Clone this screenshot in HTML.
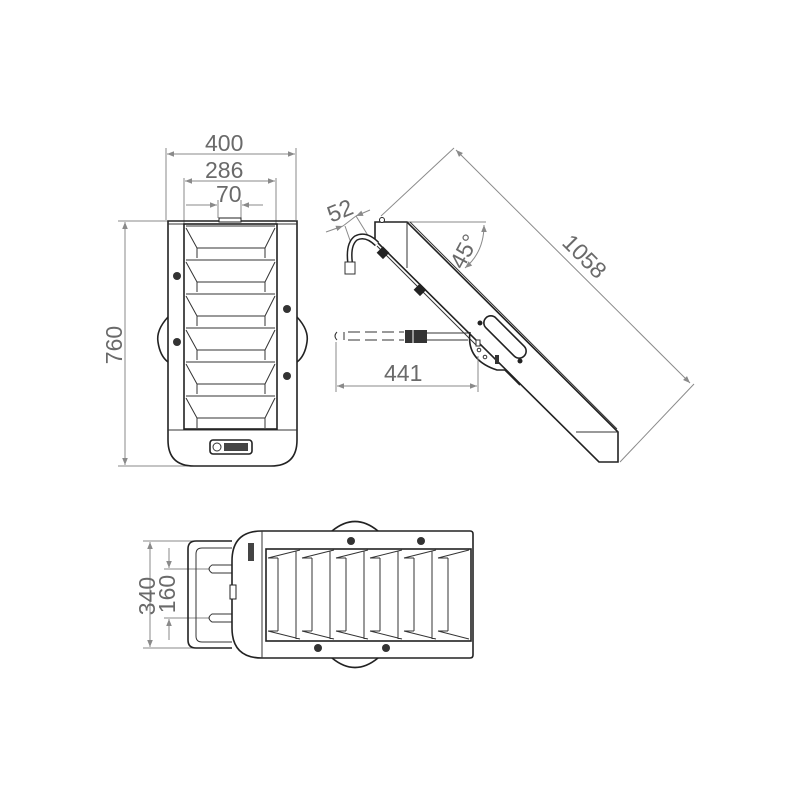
<!DOCTYPE html>
<html><head><meta charset="utf-8"><style>
html,body{margin:0;padding:0;background:#fff;}
svg{display:block}
text{font-family:"Liberation Sans",sans-serif;fill:#6a6a6a;font-size:23px}
.d{stroke:#8a8a8a;stroke-width:1;fill:none}
.o{stroke:#222;stroke-width:1.6;fill:none}
.t{stroke:#333;stroke-width:1;fill:none}
</style></head><body>
<svg width="800" height="800" viewBox="0 0 800 800" xmlns="http://www.w3.org/2000/svg">
<defs>
<marker id="a" viewBox="0 0 10 10" refX="10" refY="5" markerWidth="9" markerHeight="7" orient="auto-start-reverse" markerUnits="userSpaceOnUse"><path d="M0,1 L10,5 L0,9 z" fill="#8a8a8a"/></marker>
</defs>

<!-- FRONT VIEW dims -->
<line class="d" x1="166" y1="148" x2="166" y2="220"/><line class="d" x1="296" y1="148" x2="296" y2="220"/>
<line class="d" x1="167" y1="154" x2="295" y2="154" marker-start="url(#a)" marker-end="url(#a)"/>
<text x="205" y="151">400</text>
<line class="d" x1="184" y1="178" x2="184" y2="224"/><line class="d" x1="276" y1="178" x2="276" y2="224"/>
<line class="d" x1="185" y1="181" x2="275" y2="181" marker-start="url(#a)" marker-end="url(#a)"/>
<text x="205" y="178">286</text>
<line class="d" x1="218" y1="200" x2="218" y2="218"/><line class="d" x1="241" y1="200" x2="241" y2="218"/>
<line class="d" x1="186" y1="205" x2="217" y2="205" marker-end="url(#a)"/>
<line class="d" x1="263" y1="205" x2="242" y2="205" marker-end="url(#a)"/>
<text x="216" y="202">70</text>
<line class="d" x1="118" y1="221" x2="168" y2="221"/><line class="d" x1="118" y1="466" x2="230" y2="466"/>
<line class="d" x1="125" y1="222" x2="125" y2="465" marker-start="url(#a)" marker-end="url(#a)"/>
<text transform="translate(122,345) rotate(-90)" text-anchor="middle">760</text>

<!-- FRONT VIEW body -->
<path class="o" d="M168,221 H297 V440 Q297,466 271,466 H194 Q168,466 168,440 Z"/>
<line class="t" x1="168" y1="224" x2="297" y2="224"/>
<line class="t" x1="168" y1="430" x2="297" y2="430"/>
<rect x="219" y="218" width="22" height="4" fill="#fff" stroke="#222"/>
<rect class="o" x="184" y="224" width="93" height="205"/>
<g class="t">
<path d="M186,226 H275 M186,228 L197,248 V258 M275,228 L265,248 V258 M197,248 H265"/>
<path d="M186,260 H275 M186,262 L197,282 V292 M275,262 L265,282 V292 M197,282 H265"/>
<path d="M186,294 H275 M186,296 L197,316 V326 M275,296 L265,316 V326 M197,316 H265"/>
<path d="M186,328 H275 M186,330 L197,350 V360 M275,330 L265,350 V360 M197,350 H265"/>
<path d="M186,362 H275 M186,364 L197,384 V394 M275,364 L265,384 V394 M197,384 H265"/>
<path d="M186,396 H275 M186,398 L197,418 V428 M275,398 L265,418 V428 M197,418 H265"/>
</g>
<g fill="#333"><circle cx="177" cy="276" r="4"/><circle cx="177" cy="342" r="4"/><circle cx="287" cy="309" r="4"/><circle cx="287" cy="376" r="4"/></g>
<path class="o" d="M168,317 Q156,330 158,342 Q160,356 168,362"/>
<path class="o" d="M297,317 Q309,330 307,342 Q305,356 297,362"/>
<rect class="o" x="210" y="440" width="42" height="14" rx="3"/>
<circle class="t" cx="217" cy="447" r="4"/>
<rect x="224" y="443" width="24" height="8" fill="#444"/>

<!-- SIDE VIEW -->
<line class="d" x1="381" y1="216" x2="454" y2="148"/>
<line class="d" x1="620" y1="462" x2="694" y2="384"/>
<line class="d" x1="456" y1="150" x2="690" y2="383" marker-start="url(#a)" marker-end="url(#a)"/>
<text transform="translate(579,262) rotate(45)" text-anchor="middle">1058</text>
<line class="d" x1="407" y1="222" x2="486" y2="222"/>
<path class="d" d="M484,225 Q484,252 465,268" marker-start="url(#a)" marker-end="url(#a)"/>
<text transform="translate(471,255) rotate(-62)" text-anchor="middle">45°</text>
<!-- 52 -->
<line class="d" x1="326" y1="232" x2="343" y2="226" marker-end="url(#a)"/>
<line class="d" x1="370" y1="210" x2="356" y2="216" marker-end="url(#a)"/>
<line class="d" x1="343" y1="226" x2="356" y2="216"/>
<line class="d" x1="345" y1="226" x2="352" y2="246"/><line class="d" x1="356" y1="216" x2="372" y2="242"/>
<text transform="translate(343,218) rotate(-22)" text-anchor="middle">52</text>
<!-- body -->
<path class="o" d="M375,222 H407 L618,432 V462 H599 L375,240 Z"/>
<circle cx="382" cy="220" r="2.5" fill="#fff" stroke="#222"/>
<line class="t" x1="407" y1="222" x2="407" y2="268"/>
<line class="t" x1="410" y1="222" x2="617" y2="429"/>
<line class="t" x1="377" y1="246" x2="476" y2="345"/>
<line class="t" x1="576" y1="432" x2="618" y2="432"/>
<!-- hook -->
<path d="M377,244 Q366,233 356,238 Q348,244 350,262" stroke="#222" stroke-width="6" fill="none"/>
<path d="M377,244 Q366,233 356,238 Q348,244 350,262" stroke="#fff" stroke-width="3" fill="none"/>
<rect class="t" x="345" y="262" width="10" height="12" fill="#fff"/>
<g fill="#222"><rect x="379" y="248" width="9" height="9" transform="rotate(45 383 252)"/><rect x="416" y="285" width="9" height="9" transform="rotate(45 420 289)"/></g>
<!-- cable -->
<path class="t" d="M337,332 Q333,336 337,340"/>
<line class="t" x1="344" y1="332" x2="344" y2="340"/>
<line class="t" x1="348" y1="332" x2="404" y2="332" stroke-dasharray="12,5"/>
<line class="t" x1="348" y1="340" x2="404" y2="340" stroke-dasharray="12,5"/>
<rect x="405" y="330" width="22" height="13" fill="#333"/>
<line x1="413" y1="330" x2="413" y2="343" stroke="#fff"/>
<line class="t" x1="427" y1="333" x2="470" y2="333"/><line class="t" x1="427" y1="340" x2="468" y2="340"/>
<!-- bracket -->
<path class="o" d="M470,332 Q466,360 497,370 H505 L520,385"/>
<rect class="o" x="478" y="330" width="54" height="14" rx="7" transform="rotate(45 505 337)"/>
<circle cx="480" cy="323" r="2.5" fill="#222"/><circle cx="520" cy="361" r="2.5" fill="#222"/>
<rect x="476" y="340" width="4" height="6" fill="#fff" stroke="#333"/>
<circle class="t" cx="479" cy="350" r="1.8"/><circle class="t" cx="485" cy="357" r="1.8"/>
<rect x="495" y="355" width="4" height="9" fill="#333"/>
<line class="d" x1="478" y1="356" x2="478" y2="392"/>
<line class="d" x1="336" y1="342" x2="336" y2="392"/>
<line class="d" x1="337" y1="386" x2="477" y2="386" marker-start="url(#a)" marker-end="url(#a)"/>
<text x="384" y="381">441</text>

<!-- BOTTOM VIEW -->
<line class="d" x1="143" y1="541" x2="195" y2="541"/><line class="d" x1="143" y1="648" x2="195" y2="648"/>
<line class="d" x1="150" y1="542" x2="150" y2="647" marker-start="url(#a)" marker-end="url(#a)"/>
<text transform="translate(155,596) rotate(-90)" text-anchor="middle">340</text>
<line class="d" x1="164" y1="569" x2="210" y2="569"/><line class="d" x1="164" y1="618" x2="210" y2="618"/>
<line class="d" x1="169" y1="548" x2="169" y2="568" marker-end="url(#a)"/>
<line class="d" x1="169" y1="640" x2="169" y2="619" marker-end="url(#a)"/>
<text transform="translate(175,594) rotate(-90)" text-anchor="middle">160</text>
<path class="o" d="M232,541 H196 Q188,541 188,549 V640 Q188,648 196,648 H232"/>
<path class="t" d="M232,548 H202 Q196,548 196,554 V636 Q196,642 202,642 H232"/>
<path class="t" d="M232,565 H212 Q206,569 212,573 H232 M232,614 H212 Q206,618 212,622 H232"/>
<path class="o" d="M262,531 H470 Q473,531 473,534 V655 Q473,658 470,658 H262 Q232,658 232,628 V561 Q232,531 262,531 Z"/>
<line class="t" x1="262" y1="531" x2="262" y2="658"/>
<rect x="230" y="585" width="6" height="14" fill="#fff" stroke="#222"/>
<rect x="248" y="543" width="6" height="18" fill="#444"/>
<path class="o" d="M332,531 Q355,512 378,531"/><path class="o" d="M332,658 Q355,677 378,658"/>
<rect class="o" x="266" y="549" width="205" height="92"/>
<g class="t">
<path d="M268,558 L300,550 M268,631 L300,639 M278,558 V631 M296,551 V639 M268,558 H278 M268,631 H278"/>
<path d="M302,558 L334,550 M302,631 L334,639 M312,558 V631 M330,551 V639 M302,558 H312 M302,631 H312"/>
<path d="M336,558 L368,550 M336,631 L368,639 M346,558 V631 M364,551 V639 M336,558 H346 M336,631 H346"/>
<path d="M370,558 L402,550 M370,631 L402,639 M380,558 V631 M398,551 V639 M370,558 H380 M370,631 H380"/>
<path d="M404,558 L436,550 M404,631 L436,639 M414,558 V631 M432,551 V639 M404,558 H414 M404,631 H414"/>
<path d="M438,558 L469,550 M438,631 L469,639 M448,558 V631 M438,558 H448 M438,631 H448"/>
</g>
<g fill="#333"><circle cx="351" cy="541" r="4"/><circle cx="421" cy="541" r="4"/><circle cx="318" cy="648" r="4"/><circle cx="386" cy="648" r="4"/></g>
</svg>
</body></html>
